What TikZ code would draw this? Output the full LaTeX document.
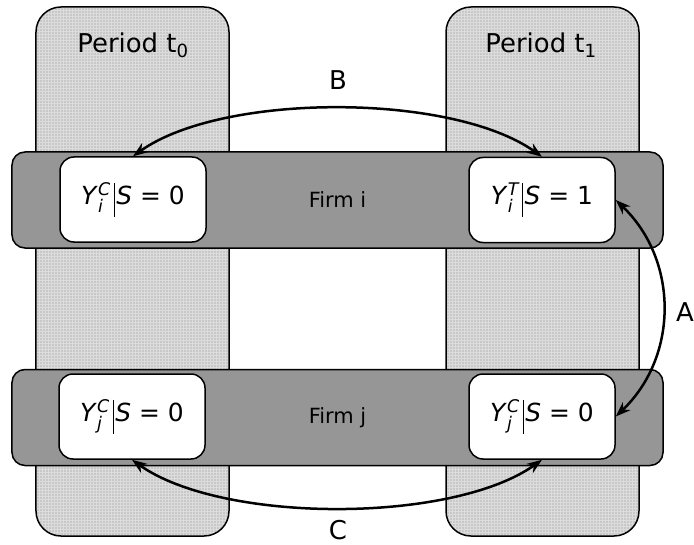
\documentclass[tikz,border=0pt]{standalone}
\usepackage{amsmath}
\usepackage{fontspec}
\setmainfont{DejaVu Sans}
\usetikzlibrary{arrows.meta}
\definecolor{colfill}{HTML}{C8C8C8}
\definecolor{colgrid}{HTML}{DCDCDC}
\definecolor{bandfill}{HTML}{969696}
\newcommand{\yexpr}[3]{\textit{Y}$^{\textit{#2}}_{\textit{#1}}$\kern3bp\rule[-0.5em]{0.7bp}{1.35em}\kern2bp\textit{S} = #3}
\begin{document}
\begin{tikzpicture}[x=1bp,y=-1bp,
  column/.style={draw=black, line width=1.5bp, fill=colfill, rounded corners=25bp,
    minimum width=193bp, minimum height=529bp, inner sep=0,
    path picture={\draw[colgrid, line width=0.45bp, step=3bp]
      (path picture bounding box.south west) grid (path picture bounding box.north east);}},
  band/.style={draw=black, line width=1.5bp, fill=bandfill, rounded corners=13bp,
    minimum width=651bp, minimum height=96bp, inner sep=0, font=\fontsize{21}{24}\selectfont},
  valbox/.style={draw=black, line width=1.5bp, fill=white, rounded corners=14bp,
    minimum width=146bp, minimum height=85bp, inner sep=0, font=\fontsize{25}{28}\selectfont},
  biglabel/.style={font=\fontsize{26}{30}\selectfont, inner sep=0},
  link/.style={line width=2.5bp, {Stealth[length=15bp,width=11bp]}-{Stealth[length=15bp,width=11bp]}}]
\useasboundingbox (0,0) rectangle (694,545);
% period columns
\node[column] (col0) at (132.5,271.5) {};
\node[column] (col1) at (542.5,271.5) {};
\node[biglabel] (p0) at (133,45) {Period t\textsubscript{0}};
\node[biglabel] (p1) at (541,45) {Period t\textsubscript{1}};
% firm bands
\node[band] (firmi) at (337.5,200) {Firm i};
\node[band] (firmj) at (337.5,417.5) {Firm j};
% value boxes
\node[valbox] (yi0) at (133,199.5) {\yexpr{i}{C}{0}};
\node[valbox] (yi1) at (542,200) {\yexpr{i}{T}{1}};
\node[valbox] (yj0) at (132,416.5) {\yexpr{j}{C}{0}};
\node[valbox] (yj1) at (542,416.5) {\yexpr{j}{C}{0}};
% connectors
\draw[link] (yi0.north) .. controls +(90,-64) and +(-90,-64) .. (yi1.north);
\draw[link] (yj0.south) .. controls +(90,64) and +(-90,64) .. (yj1.south);
\draw[link] (yi1.east) .. controls +(63,60) and +(63,-60) .. (yj1.east);
% labels
\node[biglabel] (lb) at (338,80) {B};
\node[biglabel] (la) at (685,312) {A};
\node[biglabel] (lc) at (338,530) {C};
\end{tikzpicture}
\end{document}
